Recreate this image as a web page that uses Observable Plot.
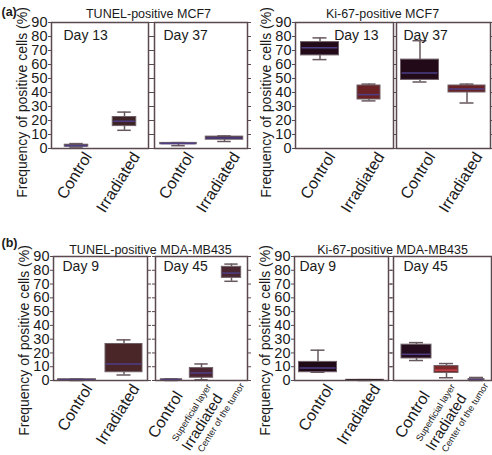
<!DOCTYPE html>
<html><head><meta charset="utf-8">
<script src="https://cdn.jsdelivr.net/npm/d3@7"></script>
<script src="https://cdn.jsdelivr.net/npm/@observablehq/plot@0.6"></script>
<style>
body{margin:0;background:#fff;}
#fig{position:relative;width:492px;height:455px;overflow:hidden;background:#fff;}
.facet{position:absolute;}
.facet svg{max-width:none !important;display:block;}
</style></head><body><div id="fig"></div>
<script>
// ---- data ----
const yTicks = [0,10,20,30,40,50,60,70,80,90];
const groups2 = ["Control","Irradiated"];
const groups3 = ["Control","Superficial layer","Center of the tumor"];
const groupLabel = "Irradiated";
const yLabel = "Frequency of positive cells (%)";
const panelTags = ["(a)","(b)"];
const panelTitles = ["TUNEL-positive MCF7","Ki-67-positive MCF7","TUNEL-positive MDA-MB435","Ki-67-positive MDA-MB435"];
// each box: [min, q1, median, q3, max]
const tunelMCF7Day13 = [[1,1.3,2,2.7,3.5],[13,16,19.5,22.5,26]];
const tunelMCF7Day37 = [[2,3,3.5,4,4.2],[5,6.3,7.5,8.5,9]];
const ki67MCF7Day13 = [[63.5,66.5,72,76,79],[34,35,38.5,45,46]];
const ki67MCF7Day37 = [[47.5,49,54,63.5,77],[32.5,40,42.5,45,46]];
const tunelMDADay9 = [[0,0.3,0.6,0.9,1.1],[4,6,12,26.5,29.5]];
const tunelMDADay45 = [[0,0.3,0.6,0.9,1.2],[0.5,2,5.5,9,12],[72,74.5,78,82.5,84.5]];
const ki67MDADay9 = [[6,6,9,13.5,22],[0,0.1,0.3,0.5,0.6]];
const ki67MDADay45 = [[14.5,16,19,26,27.5],[2,5.5,7.5,10.5,12.3],[0,0.2,0.6,1,2.2]];

// ---- styles / layout ----
const CTRL = "#220a18", MED = "#4d3f86", WHISK = "#66585e", FRAME = "#5a4a50", TXT = "#1a1a1a";
const FONT = '"Liberation Sans", Arial, sans-serif';

const facets = [
  {data:tunelMCF7Day13, cats:groups2, day:"Day 13", left:51, top:22, w:97, h:126, sx:[0,151], sy:[0,228],
   yAxis:true, ylDy:17, tag:panelTags[0], tagDy:-6.5, title:panelTitles[0], titleX:148, titleDy:-5,
   boxW:[24,24], fills:[CTRL,"#3e2426"], meds:[MED,MED], dayDx:12, dayDy:8},
  {data:tunelMCF7Day37, cats:groups2, day:"Day 37", left:154, top:22, w:93, h:126, sx:[151,250], sy:[0,228],
   boxW:[37,38], fills:[CTRL,"#3a1f2e"], meds:[MED,MED], dayDx:9, dayDy:8},
  {data:ki67MCF7Day13, cats:groups2, day:"Day 13", left:295, top:22, w:98, h:126, sx:[250,394], sy:[0,228],
   yAxis:true, ylDy:17, title:panelTitles[1], titleX:382, titleDy:-5,
   boxW:[38,23], fills:[CTRL,"#6a2224"], meds:[MED,MED], dayRight:true, dayDx:-15, dayDy:8},
  {data:ki67MCF7Day37, cats:groups2, day:"Day 37", left:396, top:22, w:94, h:126, sx:[394,492], sy:[0,228],
   boxW:[38,37], fills:[CTRL,"#6a2224"], meds:[MED,MED], dayDx:7, dayDy:8},
  {data:tunelMDADay9, cats:groups2, day:"Day 9", left:53, top:256, w:94, h:124, sx:[0,151], sy:[228,455],
   yAxis:true, ylDy:22, tag:panelTags[1], tagDy:-9.5, title:panelTitles[2], titleX:150, titleDy:-3,
   boxW:[38,37], fills:["#1a0a10","#4b2629"], meds:[MED,MED], dayDx:9, dayDy:5},
  {data:tunelMDADay45, cats:groups3, day:"Day 45", left:155, top:256, w:92, h:124, sx:[151,252], sy:[228,455],
   boxW:[22,24,20], fills:["#1a0a10","#4a2430","#4a2630"], meds:[MED,MED,MED], dayDx:8, dayDy:5,
   lab:{cDx:12, sDx:10, tDx:13, iDx:-8.3}},
  {data:ki67MDADay9, cats:groups2, day:"Day 9", left:294, top:256, w:94, h:124, sx:[252,391], sy:[228,455],
   yAxis:true, ylDy:22, title:panelTitles[3], titleX:392, titleDy:-3,
   boxW:[38,38], fills:["#200a18","#1a0a10"], meds:[MED,"#1a0a10"], dayDx:5, dayDy:5},
  {data:ki67MDADay45, cats:groups3, day:"Day 45", left:393, top:256, w:98, h:124, xInset:8, sx:[391,492], sy:[228,455],
   boxW:[30,24,16], fills:["#240c1e","#7c2a2a","#3b2040"], meds:[MED,"#c8414a",MED], dayDx:10, dayDy:5,
   lab:{cDx:14, sDx:9, tDx:12, iDx:-9.3}}
];

const fig = document.getElementById("fig");

function drawFacet(f) {
  const n = f.cats.length;
  const ml = f.left - f.sx[0], mr = f.sx[1] - (f.left + f.w);
  const mt = f.top - f.sy[0], mb = f.sy[1] - (f.top + f.h);
  const bw = (f.w - (f.xInset || 0)) / n;
  const rows = f.cats.map((c, i) => ({cat: c, min: f.data[i][0], q1: f.data[i][1], med: f.data[i][2], q3: f.data[i][3], max: f.data[i][4]}));
  const marks = [];
  if (f.yAxis) {
    marks.push(Plot.axisY(yTicks, {anchor: "left", tickSize: 3, tickPadding: 1, fontSize: 14.5, label: null, stroke: FRAME, fill: TXT}));
    marks.push(Plot.text([yLabel], {frameAnchor: "left", rotate: -90, dx: -28.5, dy: f.ylDy, fontSize: 14, fill: TXT, lineAnchor: "middle", textAnchor: "middle"}));
  } else {
    marks.push(Plot.axisY(yTicks, {anchor: "left", tickSize: 3, tickFormat: () => "", label: null, stroke: FRAME}));
  }
  marks.push(Plot.axisY(yTicks, {anchor: "right", tickSize: 3, tickFormat: () => "", label: null, stroke: FRAME}));
  rows.forEach((r, i) => {
    const bi = (bw - f.boxW[i]) / 2, ci = (bw - 14) / 2;
    marks.push(
      Plot.ruleX([r], {x: "cat", y1: "min", y2: "q1", stroke: WHISK, strokeWidth: 1.5}),
      Plot.ruleX([r], {x: "cat", y1: "q3", y2: "max", stroke: WHISK, strokeWidth: 1.5}),
      Plot.tickY([r], {x: "cat", y: "min", stroke: WHISK, strokeWidth: 1.5, insetLeft: ci, insetRight: ci}),
      Plot.tickY([r], {x: "cat", y: "max", stroke: WHISK, strokeWidth: 1.5, insetLeft: ci, insetRight: ci}),
      Plot.barY([r], {x: "cat", y1: "q1", y2: "q3", fill: f.fills[i], stroke: "#6f6068", strokeWidth: 1, insetLeft: bi, insetRight: bi}),
      Plot.tickY([r], {x: "cat", y: "med", stroke: f.meds[i], strokeWidth: 1.5, insetLeft: bi + 1, insetRight: bi + 1})
    );
  });
  marks.push(Plot.frame({stroke: FRAME, strokeWidth: 1.5}));
  marks.push(Plot.text([f.day], {frameAnchor: f.dayRight ? "top-right" : "top-left", textAnchor: f.dayRight ? "end" : "start",
    lineAnchor: "top", dx: f.dayDx, dy: f.dayDy, fontSize: 14, fill: TXT}));
  if (f.title) {
    marks.push(Plot.text([f.title], {frameAnchor: "top-left", dx: f.titleX - f.left, dy: f.titleDy, textAnchor: "middle", lineAnchor: "bottom", fontSize: 12.5, fill: TXT}));
  }
  if (f.tag) {
    marks.push(Plot.text([f.tag], {frameAnchor: "top-left", dx: 1 - f.left, dy: f.tagDy, textAnchor: "start", lineAnchor: "bottom", fontSize: 12.5, fontWeight: "bold", fill: TXT}));
  }
  const base = {frameAnchor: "bottom", rotate: -58, textAnchor: "end", lineAnchor: "bottom", fill: TXT};
  if (n === 2) {
    marks.push(Plot.text(f.cats, {...base, x: d => d, dx: 16, dy: 8, fontSize: 16}));
  } else {
    marks.push(Plot.text([f.cats[0]], {...base, x: d => d, dx: f.lab.cDx, dy: 15, fontSize: 16}));
    marks.push(Plot.text([f.cats[1]], {...base, x: d => d, dx: f.lab.sDx, dy: 6, fontSize: 9.2}));
    marks.push(Plot.text([f.cats[2]], {...base, x: d => d, dx: f.lab.tDx, dy: 5, fontSize: 9.2}));
    marks.push(Plot.text([groupLabel], {...base, x: () => f.cats[2], dx: f.lab.iDx, dy: 17.5, fontSize: 15}));
  }
  const W = f.sx[1] - f.sx[0], H = f.sy[1] - f.sy[0];
  const svg = Plot.plot({
    width: W, height: H,
    marginLeft: ml, marginRight: mr, marginTop: mt, marginBottom: mb,
    x: {type: "band", domain: f.cats, padding: 0, insetLeft: f.xInset || 0, axis: null},
    y: {domain: [0, 90], label: null},
    style: {overflow: "visible", background: "none", fontFamily: FONT, width: W + "px", height: H + "px"},
    marks
  });
  const d = document.createElement("div");
  d.className = "facet";
  d.style.left = f.sx[0] + "px";
  d.style.top = f.sy[0] + "px";
  d.style.width = W + "px";
  d.style.height = H + "px";
  d.appendChild(svg);
  fig.appendChild(d);
}
facets.forEach(drawFacet);
</script></body></html>
